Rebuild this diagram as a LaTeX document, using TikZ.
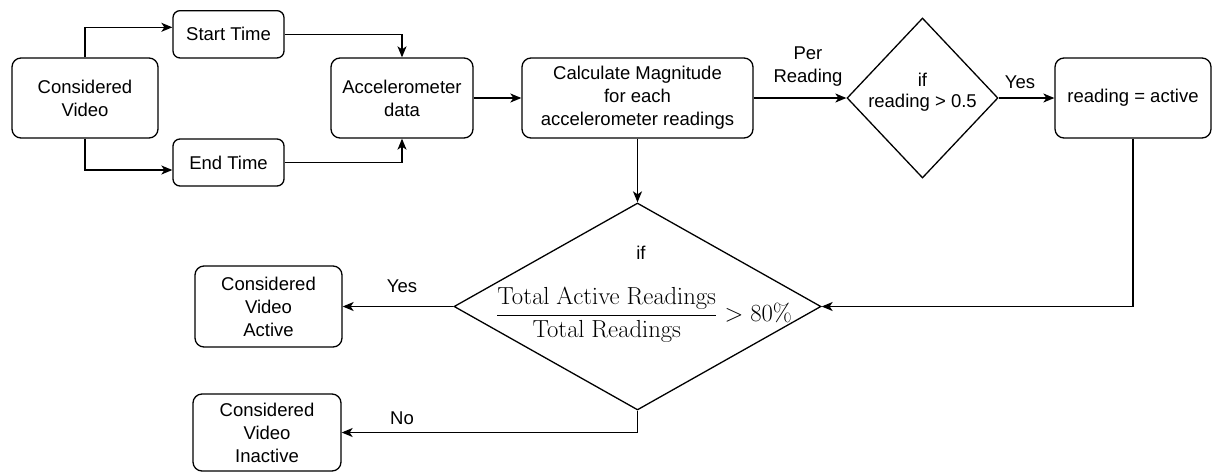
\documentclass[tikz,border=0pt]{standalone}
\usepackage[no-math]{fontspec}
\usepackage{graphicx}
\setmainfont{Liberation Sans}
\usetikzlibrary{shapes.geometric,arrows.meta}
\begin{document}
\begin{tikzpicture}[x=1pt,y=-1pt,
  line width=1.3pt,
  txt/.style={font=\fontsize{18.5}{23}\selectfont},
  box/.style={draw, rounded corners=9pt, align=center, inner sep=0pt, txt},
  dia/.style={draw, diamond, inner sep=0pt},
  arr/.style={-{Stealth[length=11pt,width=9pt,inset=3pt]}},
  lbl/.style={align=center, inner sep=0pt, txt}]
\useasboundingbox (0,0) rectangle (1212,472);

\node[box, minimum width=146pt, minimum height=80pt] (cv) at (85,98) {Considered\\Video};
\node[box, rounded corners=7pt, minimum width=111pt, minimum height=47.3pt] (st) at (228.5,34.3) {Start Time};
\node[box, rounded corners=7pt, minimum width=111pt, minimum height=47pt] (et) at (228.5,162.5) {End Time};
\node[box, minimum width=142pt, minimum height=80pt] (acc) at (402,98) {Accelerometer\\data};
\node[box, minimum width=231pt, minimum height=80pt] (calc) at (637.5,98) {Calculate Magnitude\\for each\\accelerometer readings};
\node[dia, minimum width=151pt, minimum height=160pt] (d1) at (922.5,98) {};
\node[lbl, font=\fontsize{18.5}{21}\selectfont] (d1t) at (922.5,92.5) {if\\reading > 0.5};
\node[box, minimum width=156pt, minimum height=80pt] (ra) at (1133,98) {reading = active};

\node[dia, minimum width=367pt, minimum height=207pt] (d2) at (637.5,306.5) {};
\node[lbl] (d2if) at (641,253) {if};
\node[inner sep=0pt, font=\fontsize{20.74}{25}\selectfont] (d2m) at (644,315)
  {\scalebox{1.19}{$\displaystyle\frac{\mathrm{Total\ Active\ Readings}}{\mathrm{Total\ Readings}} > 80\%$}};

\node[box, minimum width=147pt, minimum height=81pt] (act) at (268.5,306.5) {Considered\\Video\\Active};
\node[box, minimum width=148pt, minimum height=77pt] (inact) at (267,432.5) {Considered\\Video\\Inactive};

% connectors
\draw[arr] (cv.north) |- ([yshift=7pt]st.west);
\draw[arr] (cv.south) |- ([yshift=-7.5pt]et.west);
\draw[arr] (st.east) -| (acc.north);
\draw[arr] (et.east) -| (acc.south);
\draw[arr] (acc.east) -- (calc.west);
\draw[arr] (calc.east) -- (d1.west);
\draw[arr] (d1.east) -- (ra.west);
\draw[arr] (calc.south) -- (d2.north);
\draw[arr] (ra.south) |- (d2.east);
\draw[arr] (d2.west) -- (act.east);
\draw[arr] (d2.south) |- (inact.east);

% labels
\node[lbl] (lper) at (808,66.5) {Per\\Reading};
\node[lbl] (lyes1) at (1020,82) {Yes};
\node[lbl] (lyes2) at (402,286) {Yes};
\node[lbl] (lno) at (402,418) {No};
\end{tikzpicture}
\end{document}
